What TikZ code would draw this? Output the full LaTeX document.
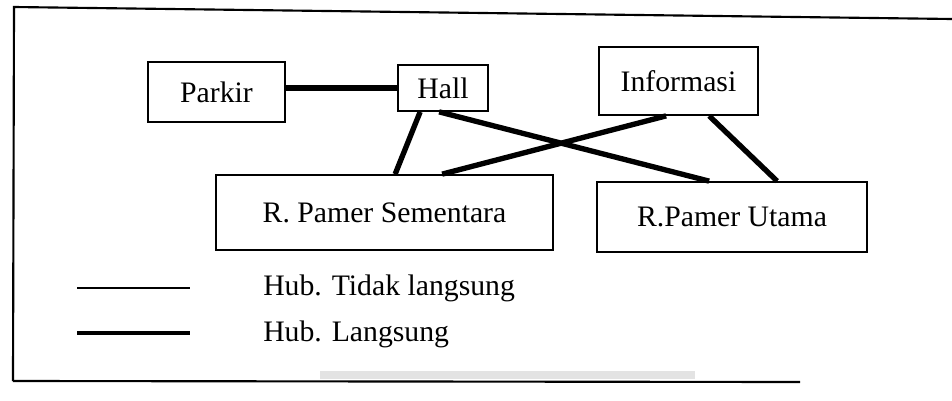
\documentclass[tikz,border=0pt]{standalone}
\usepackage{fontspec}
\setmainfont{Liberation Serif}
\usetikzlibrary{calc}
\begin{document}
\begin{tikzpicture}[x=0.75pt,y=-0.75pt,
  box/.style={draw, line width=1.3pt, inner sep=0pt, font=\fontsize{22.3}{26}\selectfont},
  direct/.style={line width=4pt},
  indirect/.style={line width=1.6pt},
  frameline/.style={line width=1.6pt},
  legtext/.style={anchor=base west, inner sep=0pt, font=\fontsize{22.3}{26}\selectfont}]
\useasboundingbox (0,0) rectangle (952,400);
% scan shadow and frame
\fill[gray!22] (320,371) rectangle (695,379);
\coordinate (ftr) at (952,19);
\coordinate (ftl) at (14,7);
\coordinate (fbl) at (13,381);
\coordinate (fbr) at (800,382);
\draw[frameline] (ftr) -- (ftl) -- (fbl);
\draw[frameline] (fbl) -- (fbr);
% boxes
\node[box, minimum width=137*0.75pt, minimum height=60*0.75pt] (parkir) at (216.5,92) {Parkir};
\node[box, minimum width=90*0.75pt, minimum height=46*0.75pt] (hall) at (443,88) {Hall};
\node[box, minimum width=159*0.75pt, minimum height=68*0.75pt] (info) at (678.5,81) {Informasi};
\node[box, minimum width=337*0.75pt, minimum height=75*0.75pt] (sem) at (384.5,212.5) {R. Pamer Sementara};
\node[box, minimum width=270*0.75pt, minimum height=70*0.75pt] (utama) at (732,217) {R.Pamer Utama};
% direct connections
\draw[direct] (parkir.east |- hall.west) -- (hall.west);
\draw[direct] ($(hall.east)+(0,2)$) -- ($(hall.east)+(0,2)$ -| info.west);
\draw[direct] ($(hall.south west)+(23,0)$) -- ($(sem.north west)+(180,0)$);
\draw[direct] ($(hall.south west)+(42,0)$) -- ($(utama.north west)+(113,0)$);
\draw[direct] ($(info.south west)+(68,0)$) -- ($(sem.north west)+(227,0)$);
\draw[direct] ($(info.south west)+(111,0)$) -- ($(utama.north west)+(181,0)$);
% indirect connection
\draw[indirect] ($(sem.south east)+(0,-25)$) -- ($(sem.south east)+(0,-25)$ -| utama.west);
% legend
\coordinate (l1a) at (77,288);
\coordinate (l1b) at (190,288);
\coordinate (l2a) at (77,333);
\coordinate (l2b) at (190,333);
\draw[indirect] (l1a) -- (l1b);
\draw[line width=3pt] (l2a) -- (l2b);
\node[legtext] (t1) at (263,295) {Hub. Tidak langsung};
\node[legtext] (t2) at (263,341) {Hub. Langsung};
\end{tikzpicture}
\end{document}
